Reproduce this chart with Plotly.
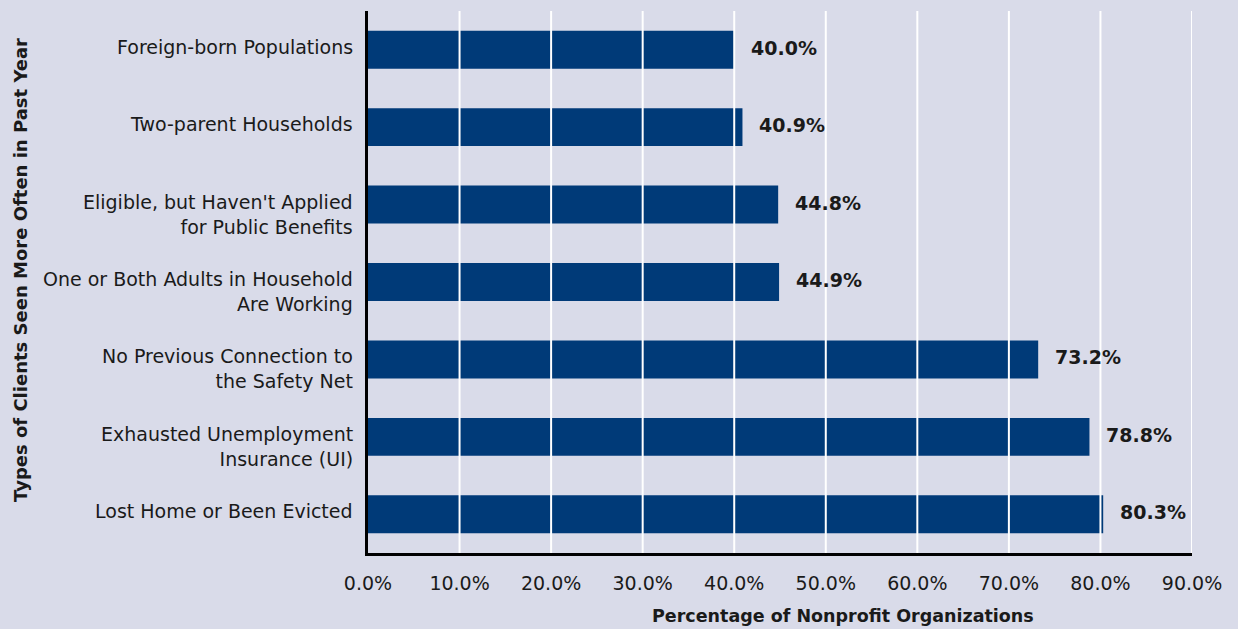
import plotly.graph_objects as go

categories = [
    "Lost Home or Been Evicted",
    "Exhausted Unemployment<br>Insurance (UI)",
    "No Previous Connection to<br>the Safety Net",
    "One or Both Adults in Household<br>Are Working",
    "Eligible, but Haven't Applied<br>for Public Benefits",
    "Two-parent Households",
    "Foreign-born Populations",
]
values = [80.3, 78.8, 73.2, 44.9, 44.8, 40.9, 40.0]
x_ticks = [0, 10, 20, 30, 40, 50, 60, 70, 80, 90]
x_tick_labels = [f"{t:.1f}%" for t in x_ticks]

BG = "#d9dbe9"
BAR = "#003a78"
TXT = "#1a1a1a"
FONT = "'DejaVu Sans', sans-serif"

fig = go.Figure()
fig.add_trace(go.Bar(
    x=values, y=categories, orientation="h",
    marker=dict(color=BAR, line=dict(width=0)),
    hoverinfo="skip",
))

# category labels: first line sits level with the bar, extra lines hang below
for c in categories:
    n_lines = c.count("<br>") + 1
    fig.add_annotation(
        x=0, y=c, xref="x", yref="y", text=c, showarrow=False,
        xanchor="right", yanchor="middle", align="right",
        xshift=-13, yshift=3 - 12.5 * (n_lines - 1),
        font=dict(family=FONT, size=19, color=TXT),
    )

# value labels to the right of each bar
for v, c in zip(values, categories):
    fig.add_annotation(
        x=v, y=c, text=f"<b>{v:.1f}%</b>", showarrow=False,
        xanchor="left", xshift=15, yanchor="middle", yshift=2,
        font=dict(family=FONT, size=19, color=TXT),
    )

# white gridlines drawn over the bars
for t in x_ticks[1:]:
    fig.add_shape(
        type="line", xref="x", yref="paper", x0=t, x1=t, y0=0, y1=1,
        line=dict(color="white", width=2), layer="above",
    )

# axis titles
fig.add_annotation(
    xref="paper", yref="paper", x=(843 - 368) / 824, y=-(616 - 553) / 542,
    text="<b>Percentage of Nonprofit Organizations</b>", showarrow=False,
    xanchor="center", yanchor="middle",
    font=dict(family=FONT, size=17.5, color=TXT),
)
fig.add_annotation(
    xref="paper", yref="paper", x=-(368 - 20) / 824, y=(553 - 270) / 542,
    text="<b>Types of Clients Seen More Often in Past Year</b>", showarrow=False,
    textangle=-90, xanchor="center", yanchor="middle",
    font=dict(family=FONT, size=18, color=TXT),
)

fig.update_layout(
    width=1238, height=629,
    paper_bgcolor=BG, plot_bgcolor=BG,
    margin=dict(l=368, r=46, t=11, b=76),
    bargap=0.51,
    showlegend=False,
    font=dict(family=FONT, color=TXT),
)
fig.update_xaxes(
    range=[0, 90], tickvals=x_ticks, ticktext=x_tick_labels,
    showgrid=False, zeroline=False,
    showline=True, linecolor="black", linewidth=3,
    ticks="", ticklabelstandoff=11,
    tickfont=dict(family=FONT, size=19, color=TXT),
)
fig.update_yaxes(
    showgrid=False, zeroline=False,
    showline=True, linecolor="black", linewidth=3,
    ticks="", showticklabels=False,
)

fig.write_html("out.html")
